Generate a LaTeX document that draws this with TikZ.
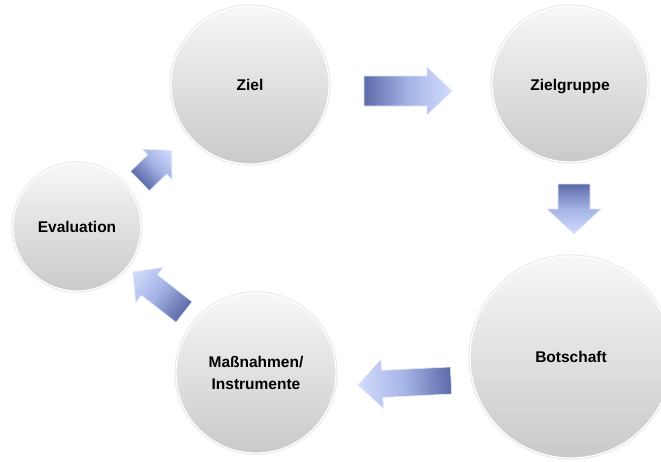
\documentclass[tikz,border=0pt]{standalone}
\usepackage{fontspec}
\setmainfont{Liberation Sans}
\definecolor{arrowdark}{RGB}{92,106,168}
\definecolor{arrowmid}{RGB}{165,180,230}
\definecolor{arrowlight}{RGB}{210,220,252}
\tikzset{
  ball/.style={circle, inner sep=0pt, align=center,
    top color=black!3, bottom color=black!21,
    draw=white, line width=1.2pt,
    preaction={draw=black!9, line width=3.2pt},
    font=\bfseries\fontsize{15.5}{22}\selectfont},
  arrowfill/.style={left color=arrowdark, right color=arrowlight, middle color=arrowmid,
    draw=arrowlight!70!white, line width=0.6pt}
}
\newcommand{\myblockarrow}[7]{%
  \begin{scope}[transform canvas={shift={(#1,#2)},rotate=#3}]
    \shade[arrowfill] (0,{#6/2}) -- ({#4-#5},{#6/2}) -- ({#4-#5},{#7/2}) -- (#4,0)
      -- ({#4-#5},{-#7/2}) -- ({#4-#5},{-#6/2}) -- (0,{-#6/2}) -- cycle;
  \end{scope}}
\begin{document}
\begin{tikzpicture}[x=1pt,y=-1pt]
\useasboundingbox[fill=white] (0,0) rectangle (661,461);
\node[ball, minimum size=158pt] (ziel) at (250,85) {Ziel};
\node[ball, minimum size=156pt] (zielgruppe) at (570,84) {\raisebox{-2.5pt}[\height][\depth]{Zielgruppe}};
\node[ball, minimum size=202pt] (botschaft) at (571,357) {Botschaft};
\node[ball, minimum size=160pt] (massnahmen) at (256,373) {Maßnahmen/\\Instrumente};
\node[ball, minimum size=128pt] (evaluation) at (77,227) {Evaluation};
% block arrows
\myblockarrow{364}{91}{0}{88}{25}{30}{48}
\myblockarrow{574}{184}{-90}{50}{25}{32}{54}
\myblockarrow{451}{380.5}{182.8}{93}{24}{27}{49}
\myblockarrow{184}{312}{142}{65}{21}{26}{44}
\myblockarrow{140}{181}{44}{44}{20}{27}{42}
\end{tikzpicture}
\end{document}
